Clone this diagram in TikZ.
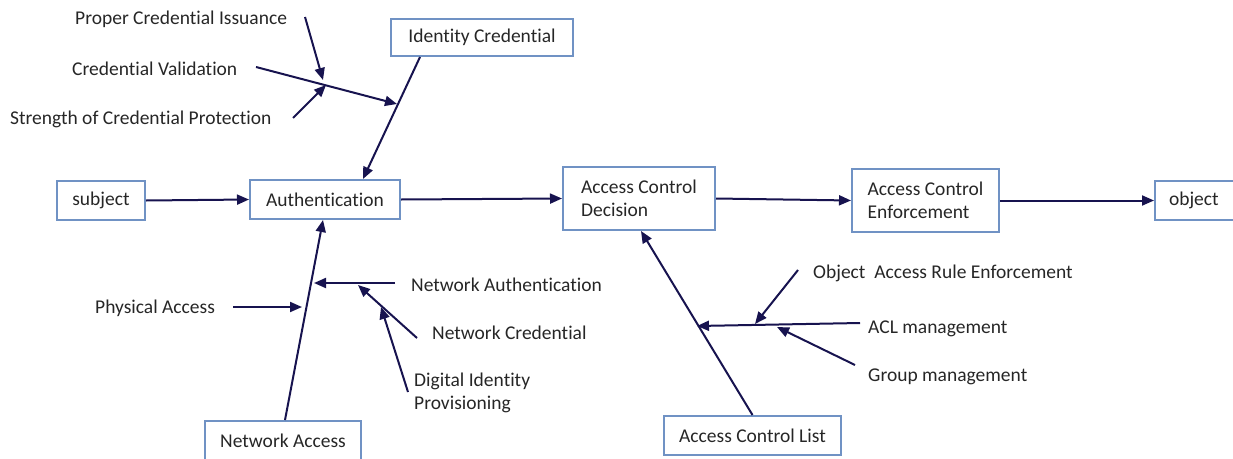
\documentclass[tikz,border=0pt]{standalone}
\usepackage{fontspec}
\setmainfont{Carlito}[Ligatures=NoCommon]
\usetikzlibrary{arrows.meta}
\definecolor{boxc}{HTML}{7092C4}
\definecolor{arrc}{HTML}{17134F}
\tikzset{
  lbl/.style={font=\fontsize{19.5}{23}\selectfont, inner sep=0pt, text=black!85, yshift=-1.5pt},
  box/.style={draw=boxc, line width=2pt, inner sep=0pt, font=\fontsize{19.5}{23}\selectfont, text=black!85},
  arr/.style={draw=arrc, line width=2pt, -{Triangle[length=12pt,width=10pt]}},
}
\begin{document}
\begin{tikzpicture}[x=1pt,y=-1pt]
\useasboundingbox (0,0) rectangle (1233,458);
% boxes
\node[box, minimum width=182pt, minimum height=37pt] (idc) at (482,37.5) {Identity Credential};
\node[box, minimum width=88pt, minimum height=39pt] (subj) at (101,200.5) {subject};
\node[box, minimum width=150pt, minimum height=39pt] (auth) at (325,199.5) {Authentication};
\node[box, minimum width=152pt, minimum height=63pt, align=left] (acd) at (639,198.5) {Access Control\\Decision};
\node[box, minimum width=147pt, minimum height=63pt, align=left] (ace) at (925.5,200.5) {Access Control\\Enforcement};
\node[box, minimum height=39pt, text width=62pt, inner xsep=14pt, align=left] (obj) at (1200,200.5) {object};
\node[box, minimum width=156pt, minimum height=40pt] (netacc) at (283,441) {Network Access};
\node[box, minimum width=177pt, minimum height=39pt] (acl) at (752.5,435.5) {Access Control List};
% labels
\node[lbl, anchor=west] (pci) at (75,18) {Proper Credential Issuance};
\node[lbl, anchor=west] (cv) at (72,67) {Credential Validation};
\node[lbl, anchor=west] (scp) at (10,118) {Strength of Credential Protection};
\node[lbl, anchor=west] (pa) at (95,307) {Physical Access};
\node[lbl, anchor=west] (na) at (411,283) {Network Authentication};
\node[lbl, anchor=west] (nc) at (432,331) {Network Credential};
\node[lbl, anchor=west, align=left] (dip) at (414,391.5) {Digital Identity\\Provisioning};
\node[lbl, anchor=west] (oar) at (813,272) {Object\ \ Access Rule Enforcement};
\node[lbl, anchor=west] (aclm) at (868,327) {ACL management};
\node[lbl, anchor=west] (gm) at (868,375) {Group management};
% coordinates for branch ends
\coordinate (cvs) at (256,67);
\coordinate (j1) at (397,104);
\coordinate (pcis) at (305,17);
\coordinate (pcie) at (323,80);
\coordinate (scps) at (293,118);
\coordinate (scpe) at (326,85);
\coordinate (pas) at (233,307);
\coordinate (pae) at (302,307);
\coordinate (nas) at (395,283);
\coordinate (nae) at (314,283);
\coordinate (ncs) at (417,338);
\coordinate (nce) at (358,285);
\coordinate (dips) at (408,392);
\coordinate (dipe) at (381,307);
\coordinate (aclms) at (860,323);
\coordinate (aclme) at (697,326);
\coordinate (oars) at (798,270);
\coordinate (oare) at (755,324);
\coordinate (gms) at (855,365);
\coordinate (gme) at (777,327);
% main spine
\draw[arr] (subj.east) -- (auth.west);
\draw[arr] (auth.east) -- (acd.west);
\draw[arr] (acd.east) -- (ace.west);
\draw[arr] (ace.east) -- (obj.west);
% bones
\draw[arr] ([xshift=30pt]idc.south west) -- ([xshift=114pt]auth.north west);
\draw[arr] ([xshift=2pt]netacc.north) -- ([xshift=-2pt]auth.south);
\draw[arr] (acl.north) -- ([xshift=2pt]acd.south);
% sub-bones
\draw[arr] (cvs) -- (j1);
\draw[arr] (pcis) -- (pcie);
\draw[arr] (scps) -- (scpe);
\draw[arr] (pas) -- (pae);
\draw[arr] (nas) -- (nae);
\draw[arr] (ncs) -- (nce);
\draw[arr] (dips) -- (dipe);
\draw[arr] (aclms) -- (aclme);
\draw[arr] (oars) -- (oare);
\draw[arr] (gms) -- (gme);
\end{tikzpicture}
\end{document}
